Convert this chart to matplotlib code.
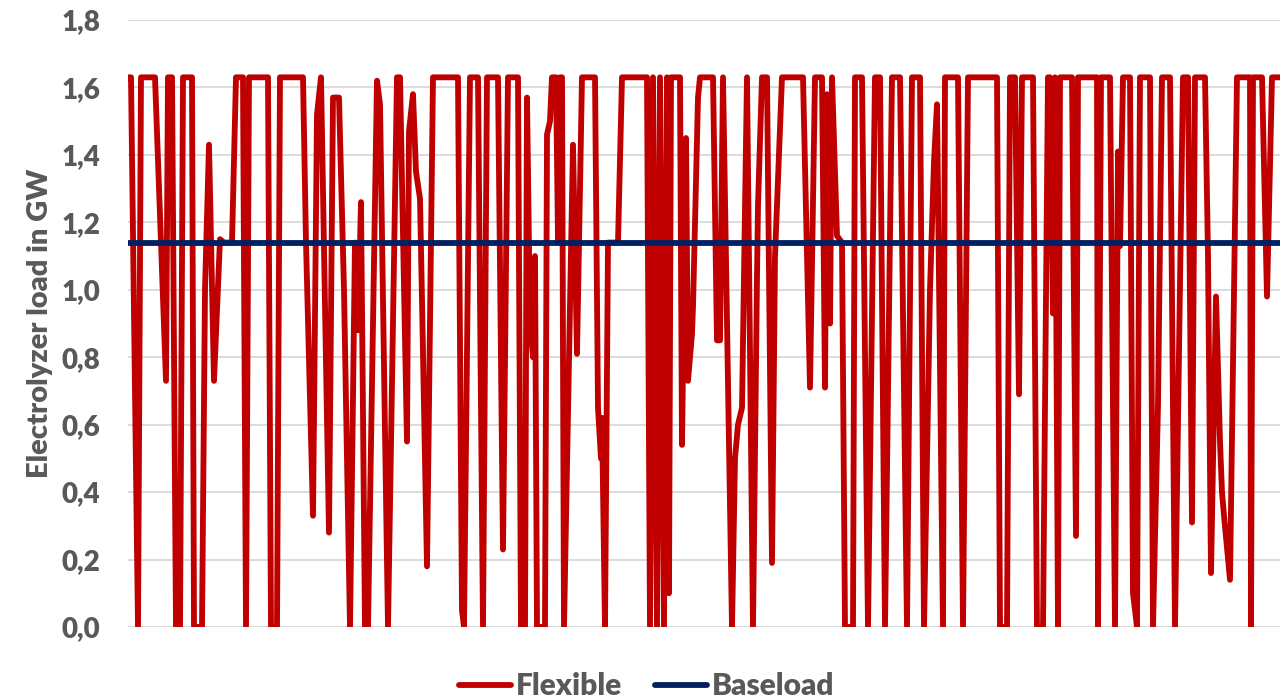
import matplotlib
matplotlib.use("Agg")
import matplotlib.pyplot as plt

plt.rcParams['font.family'] = ['Lato', 'DejaVu Sans']

# time index in quarter hours, load in GW (breakpoints)
quarter_hour = [0, 3, 10, 13, 27, 38, 40, 44, 48, 52, 55, 64, 66, 74, 77, 81, 86, 92, 96, 104,
                108, 115, 118, 121, 140, 143, 149, 152, 175, 178, 185, 189, 193, 201, 205, 211,
                216, 222, 227, 230, 233, 237, 240, 249, 252, 260, 269, 272, 279, 281, 285, 288,
                292, 294, 299, 305, 330, 334, 336, 342, 350, 355, 359, 370, 375, 380, 390, 393,
                397, 399, 402, 405, 407, 409, 417, 419, 422, 424, 428, 430, 432, 434, 436, 445,
                449, 454, 467, 470, 473, 474, 477, 480, 490, 494, 519, 522, 525, 529, 532, 536,
                539, 541, 543, 552, 554, 558, 560, 564, 565, 570, 572, 585, 589, 592, 595, 604,
                607, 610, 614, 619, 625, 629, 630, 634, 639, 644, 647, 654, 675, 682, 687, 694,
                697, 699, 702, 704, 709, 714, 717, 725, 727, 734, 740, 747, 752, 757, 764, 772,
                779, 784, 792, 796, 802, 806, 809, 815, 817, 830, 835, 840, 869, 872, 879, 882,
                887, 891, 894, 905, 909, 915, 920, 922, 925, 927, 930, 932, 944, 948, 950, 969,
                970, 973, 982, 987, 990, 992, 995, 1002, 1005, 1009, 1012, 1022, 1025, 1030,
                1034, 1042, 1047, 1055, 1060, 1064, 1067, 1077, 1080, 1083, 1088, 1092, 1094,
                1096, 1102, 1109, 1122, 1123, 1125, 1134, 1139, 1144, 1152]
flexible = [1.63, 1.63, 0.0, 1.63, 1.63, 0.73, 1.63, 1.63, 0.0, 0.0, 1.63, 1.63, 0.0, 0.0, 1.0,
            1.43, 0.73, 1.15, 1.14, 1.14,
            1.63, 1.63, 0.0, 1.63, 1.63, 0.0, 0.0, 1.63, 1.63, 1.14, 0.33, 1.52, 1.63, 0.28,
            1.57, 1.57,
            1.0, 0.0, 1.14, 0.88, 1.26, 0.0, 0.0, 1.62, 1.55, 0.0, 1.63, 1.63, 0.55, 1.47,
            1.58, 1.35,
            1.27, 0.97, 0.18, 1.63, 1.63, 0.05, 0.0, 1.63, 1.63, 0.0, 1.63, 1.63, 0.23, 1.63,
            1.63, 0.0,
            0.0, 1.57, 0.9, 0.8, 1.1, 0.0, 0.0, 1.46, 1.5, 1.63, 1.63, 1.15, 1.63, 1.63, 0.0,
            1.43,
            0.81, 1.63, 1.63, 0.65, 0.5, 0.62, 0.0, 1.14, 1.14, 1.63, 1.63, 0.0, 1.63, 0.0,
            1.63, 0.0,
            1.63, 0.1, 1.63, 1.63, 0.54, 1.45, 0.73, 0.87, 0.95, 1.57, 1.63, 1.63, 0.85, 0.85,
            1.63, 0.0,
            0.5, 0.6, 0.65, 1.63, 0.0, 1.04, 1.25, 1.63, 1.63, 0.19, 1.1, 1.63, 1.63, 0.71,
            1.63, 1.63,
            0.71, 1.58, 0.9, 1.63, 1.16, 1.14, 0.0, 0.0, 1.63, 1.63, 0.0, 1.63, 1.63, 0.0,
            1.63, 1.63,
            0.0, 1.63, 1.63, 0.0, 1.0, 1.38, 1.55, 0.0, 1.63, 1.63, 0.0, 1.63, 1.63, 0.0, 0.0,
            1.63,
            1.63, 0.69, 1.63, 1.63, 0.0, 0.0, 1.63, 1.63, 0.93, 1.63, 0.0, 1.63, 1.63, 0.27,
            1.63, 1.63,
            0.0, 1.63, 1.63, 0.0, 1.41, 1.13, 1.63, 1.63, 0.1, 0.0, 1.63, 1.63, 0.0, 0.66,
            1.63, 1.63, 0.0, 1.63, 1.63, 0.31, 1.63, 1.63, 1.1, 0.16, 0.98, 0.55, 0.4,
            0.33, 0.14, 1.63, 1.63, 0.0, 1.63, 1.63, 0.98, 1.63, 1.63]
baseload = 1.14

yticks = [0.0, 0.2, 0.4, 0.6, 0.8, 1.0, 1.2, 1.4, 1.6, 1.8]
grey = '#595959'

fig = plt.figure(figsize=(12.88, 6.99), dpi=100)
ax = fig.add_axes([128 / 1288, 1 - 627 / 699, 1152 / 1288, 607 / 699])

ax.plot(quarter_hour, flexible, color='#C00000', lw=4.2, label='Flexible',
        solid_joinstyle='round', solid_capstyle='round', zorder=3)
ax.plot([quarter_hour[0], quarter_hour[-1]], [baseload, baseload], color='#002060', lw=4.2,
        label='Baseload', solid_capstyle='round', zorder=4)

ax.set_xlim(quarter_hour[0], quarter_hour[-1])
ax.set_ylim(0, 1.8)
ax.set_yticks(yticks)
ax.set_yticklabels([f'{v:.1f}'.replace('.', ',') for v in yticks],
                   fontsize=20, fontweight='heavy', color=grey)
ax.set_xticks([])
ax.tick_params(axis='y', length=0, pad=20)
ax.grid(axis='y', color='#D9D9D9', lw=1.3)
ax.set_axisbelow(True)
for s in ax.spines.values():
    s.set_visible(False)
ax.set_ylabel('Electrolyzer load in GW', fontsize=21, fontweight='heavy', color=grey,
              labelpad=6)

fig.legend(loc='center', bbox_to_anchor=(0.502, 0.018), ncol=2, frameon=False,
           prop={'size': 21.5, 'weight': 'heavy'}, labelcolor=grey,
           handlelength=1.75, handletextpad=0.15, columnspacing=1.1)

fig.savefig('out.png', dpi=100)
